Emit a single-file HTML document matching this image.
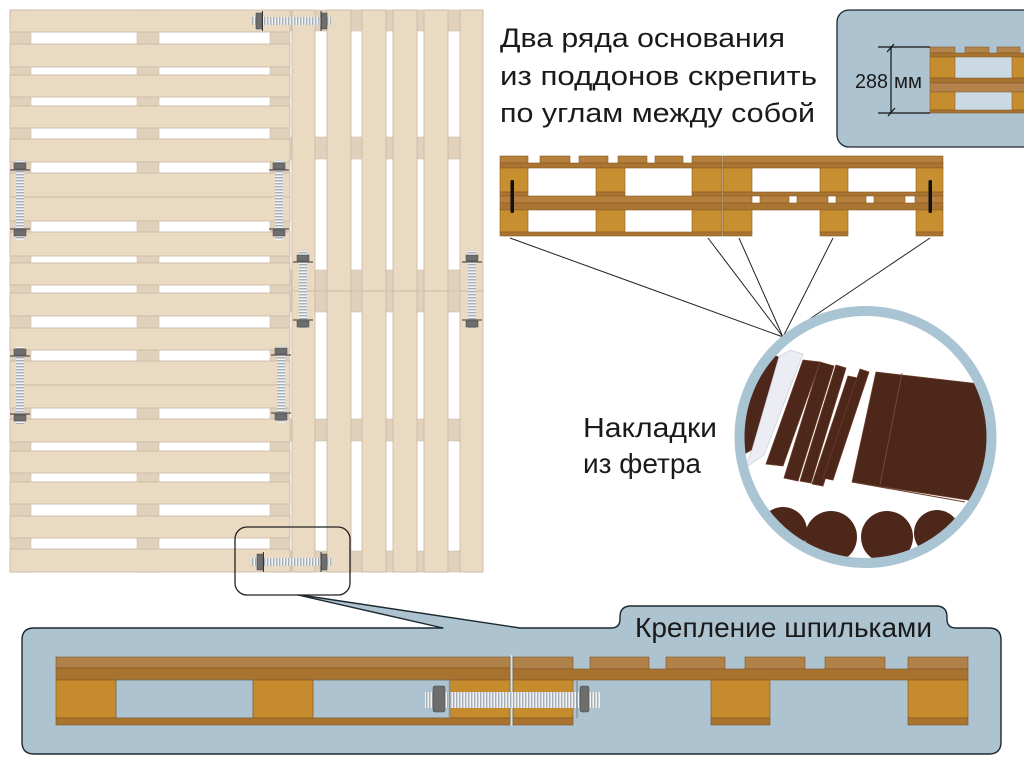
<!DOCTYPE html>
<html><head><meta charset="utf-8"><style>html,body{margin:0;padding:0;background:#fff;}svg{display:block;}</style></head>
<body>
<svg width="1024" height="768" viewBox="0 0 1024 768" xmlns="http://www.w3.org/2000/svg" font-family="'Liberation Sans','DejaVu Sans',sans-serif">
<defs>
<pattern id="tv" width="8" height="3" patternUnits="userSpaceOnUse"><rect width="8" height="3" fill="#f0f2f4"/><rect width="8" height="1.4" fill="#a6aeb6"/></pattern>
<pattern id="th" width="3" height="8" patternUnits="userSpaceOnUse"><rect width="3" height="8" fill="#f0f2f4"/><rect width="1.4" height="8" fill="#a6aeb6"/></pattern>
<clipPath id="cc"><circle cx="865.5" cy="437" r="122"/></clipPath>
<clipPath id="ins"><rect x="837" y="10" width="187" height="137"/></clipPath>
</defs>
<rect width="1024" height="768" fill="#fff"/>

<!-- LEFT COLUMN: stringers -->
<g fill="#e0d0bc" stroke="#cdbfac" stroke-width="0.6">
<rect x="10" y="10" width="21" height="562"/>
<rect x="137" y="10" width="22" height="562"/>
<rect x="270" y="10" width="20" height="562"/>
</g>
<!-- left boards -->
<g fill="#ebdac2" stroke="#c6b7a2" stroke-width="0.8">
<rect x="10" y="10" width="280" height="22"/>
<rect x="10" y="44" width="280" height="23"/>
<rect x="10" y="75" width="280" height="22"/>
<rect x="10" y="106" width="280" height="22"/>
<rect x="10" y="139" width="280" height="23"/>
<rect x="10" y="173" width="280" height="24"/>
<rect x="10" y="197" width="280" height="24"/>
<rect x="10" y="232" width="280" height="24"/>
<rect x="10" y="263" width="280" height="22"/>
<rect x="10" y="293" width="280" height="23"/>
<rect x="10" y="328" width="280" height="22"/>
<rect x="10" y="361" width="280" height="24"/>
<rect x="10" y="385" width="280" height="23"/>
<rect x="10" y="419" width="280" height="23"/>
<rect x="10" y="451" width="280" height="22"/>
<rect x="10" y="482" width="280" height="22"/>
<rect x="10" y="516" width="280" height="22"/>
<rect x="10" y="549" width="280" height="23"/>
</g>

<!-- RIGHT COLUMN: stringers -->
<g fill="#e0d0bc" stroke="#cdbfac" stroke-width="0.6">
<rect x="291" y="10" width="192" height="21"/>
<rect x="291" y="137" width="192" height="22"/>
<rect x="291" y="270" width="192" height="21"/>
<rect x="291" y="291" width="192" height="21"/>
<rect x="291" y="419" width="192" height="22"/>
<rect x="291" y="551" width="192" height="21"/>
</g>
<g fill="#ebdac2" stroke="#c6b7a2" stroke-width="0.8">
<rect x="292" y="10" width="23" height="281"/>
<rect x="327" y="10" width="24" height="281"/>
<rect x="362" y="10" width="24" height="281"/>
<rect x="393" y="10" width="24" height="281"/>
<rect x="424" y="10" width="24" height="281"/>
<rect x="460" y="10" width="23" height="281"/>
<rect x="292" y="291" width="23" height="281"/>
<rect x="327" y="291" width="24" height="281"/>
<rect x="362" y="291" width="24" height="281"/>
<rect x="393" y="291" width="24" height="281"/>
<rect x="424" y="291" width="24" height="281"/>
<rect x="460" y="291" width="23" height="281"/>
</g>

<!-- BOLTS on top view -->
<g>
<!-- vertical bolts -->
<rect x="16" y="160" width="8" height="80" fill="url(#tv)"/>
<rect x="14" y="163" width="12" height="6" fill="#6e6e6e" stroke="#444" stroke-width="0.5"/>
<rect x="14" y="230" width="12" height="6" fill="#6e6e6e" stroke="#444" stroke-width="0.5"/>
<line x1="10" y1="170" x2="30" y2="170" stroke="#333" stroke-width="1"/>
<line x1="10" y1="229" x2="30" y2="229" stroke="#333" stroke-width="1"/>

<rect x="275" y="160" width="8" height="80" fill="url(#tv)"/>
<rect x="273" y="163" width="12" height="6" fill="#6e6e6e" stroke="#444" stroke-width="0.5"/>
<rect x="273" y="230" width="12" height="6" fill="#6e6e6e" stroke="#444" stroke-width="0.5"/>
<line x1="269" y1="170" x2="289" y2="170" stroke="#333" stroke-width="1"/>
<line x1="269" y1="229" x2="289" y2="229" stroke="#333" stroke-width="1"/>

<rect x="299" y="250" width="8" height="78" fill="url(#tv)"/>
<rect x="297" y="255" width="12" height="6" fill="#6e6e6e" stroke="#444" stroke-width="0.5"/>
<rect x="297" y="321" width="12" height="6" fill="#6e6e6e" stroke="#444" stroke-width="0.5"/>
<line x1="293" y1="262" x2="313" y2="262" stroke="#333" stroke-width="1"/>
<line x1="293" y1="320" x2="313" y2="320" stroke="#333" stroke-width="1"/>

<rect x="468" y="250" width="8" height="78" fill="url(#tv)"/>
<rect x="466" y="255" width="12" height="6" fill="#6e6e6e" stroke="#444" stroke-width="0.5"/>
<rect x="466" y="321" width="12" height="6" fill="#6e6e6e" stroke="#444" stroke-width="0.5"/>
<line x1="462" y1="262" x2="482" y2="262" stroke="#333" stroke-width="1"/>
<line x1="462" y1="320" x2="482" y2="320" stroke="#333" stroke-width="1"/>

<rect x="16" y="347" width="8" height="77" fill="url(#tv)"/>
<rect x="14" y="349" width="12" height="6" fill="#6e6e6e" stroke="#444" stroke-width="0.5"/>
<rect x="14" y="415" width="12" height="6" fill="#6e6e6e" stroke="#444" stroke-width="0.5"/>
<line x1="10" y1="356" x2="30" y2="356" stroke="#333" stroke-width="1"/>
<line x1="10" y1="414" x2="30" y2="414" stroke="#333" stroke-width="1"/>

<rect x="277" y="346" width="8" height="77" fill="url(#tv)"/>
<rect x="275" y="348" width="12" height="6" fill="#6e6e6e" stroke="#444" stroke-width="0.5"/>
<rect x="275" y="414" width="12" height="6" fill="#6e6e6e" stroke="#444" stroke-width="0.5"/>
<line x1="271" y1="355" x2="291" y2="355" stroke="#333" stroke-width="1"/>
<line x1="271" y1="413" x2="291" y2="413" stroke="#333" stroke-width="1"/>

<!-- horizontal bolts -->
<rect x="252" y="17" width="79" height="8" fill="url(#th)"/>
<rect x="256" y="13" width="6" height="16" fill="#6e6e6e" stroke="#444" stroke-width="0.5"/>
<rect x="321" y="13" width="6" height="16" fill="#6e6e6e" stroke="#444" stroke-width="0.5"/>
<line x1="262.5" y1="11" x2="262.5" y2="31" stroke="#333" stroke-width="1"/>
<line x1="321" y1="11" x2="321" y2="31" stroke="#333" stroke-width="1"/>

<rect x="252" y="558" width="80" height="8" fill="url(#th)"/>
<rect x="257" y="554" width="6" height="16" fill="#6e6e6e" stroke="#444" stroke-width="0.5"/>
<rect x="321" y="554" width="6" height="16" fill="#6e6e6e" stroke="#444" stroke-width="0.5"/>
<line x1="263.5" y1="552" x2="263.5" y2="572" stroke="#333" stroke-width="1"/>
<line x1="321" y1="552" x2="321" y2="572" stroke="#333" stroke-width="1"/>
</g>

<!-- callout box -->
<rect x="235" y="527" width="115" height="68" rx="12" fill="none" stroke="#222" stroke-width="1.3"/>

<!-- TITLE TEXT -->
<g fill="#1a1a1a" font-size="27">
<text x="500" y="47" textLength="285" lengthAdjust="spacingAndGlyphs">Два ряда основания</text>
<text x="500" y="85" textLength="317" lengthAdjust="spacingAndGlyphs">из поддонов скрепить</text>
<text x="500" y="122" textLength="315" lengthAdjust="spacingAndGlyphs">по углам между собой</text>
</g>

<!-- TOP RIGHT INSET -->
<rect x="837" y="10" width="210" height="137" rx="12" fill="#adc3d0" stroke="#1c2830" stroke-width="1.3"/>
<g clip-path="url(#ins)" stroke="#7d5527" stroke-width="0.5">
<rect x="955" y="57" width="57" height="21" fill="#cad9e2" stroke="none"/>
<rect x="955" y="92" width="57" height="18" fill="#cad9e2" stroke="none"/>
<rect x="930" y="47" width="25" height="6" fill="#b3834a"/>
<rect x="965" y="47" width="24" height="6" fill="#b3834a"/>
<rect x="997" y="47" width="23" height="6" fill="#b3834a"/>
<rect x="1026" y="47" width="20" height="6" fill="#b3834a"/>
<rect x="930" y="53" width="100" height="4" fill="#a8732f"/>
<rect x="930" y="57" width="25" height="21" fill="#c68d2f"/>
<rect x="1012" y="57" width="20" height="21" fill="#c68d2f"/>
<rect x="930" y="78" width="100" height="5" fill="#a8732f"/>
<rect x="930" y="83" width="100" height="9" fill="#b3834a"/>
<rect x="930" y="92" width="25" height="18" fill="#c68d2f"/>
<rect x="1012" y="92" width="20" height="18" fill="#c68d2f"/>
<rect x="930" y="110" width="100" height="3" fill="#a8732f"/>
</g>
<g stroke="#111" stroke-width="1.2">
<line x1="878" y1="47" x2="930" y2="47"/>
<line x1="878" y1="113" x2="930" y2="113"/>
<line x1="891" y1="47" x2="891" y2="113"/>
<line x1="887" y1="52" x2="894" y2="44"/>
<line x1="888" y1="116" x2="895" y2="108"/>
</g>
<g fill="#1a1a1a" font-size="20">
<text x="855" y="88" textLength="33" lengthAdjust="spacingAndGlyphs">288</text>
<text x="894" y="88" textLength="28" lengthAdjust="spacingAndGlyphs">мм</text>
</g>

<!-- MIDDLE SIDE VIEW -->
<g stroke="#8a5c22" stroke-width="0.6">
<!-- left section row A -->
<rect x="500" y="156" width="28" height="7" fill="#b5803c"/>
<rect x="540" y="156" width="30" height="7" fill="#b5803c"/>
<rect x="579" y="156" width="29" height="7" fill="#b5803c"/>
<rect x="618" y="156" width="29" height="7" fill="#b5803c"/>
<rect x="655" y="156" width="28" height="7" fill="#b5803c"/>
<rect x="692" y="156" width="30" height="7" fill="#b5803c"/>
<rect x="500" y="163" width="222" height="5" fill="#aa7432"/>
<rect x="500" y="168" width="28" height="24" fill="#c88f30"/>
<rect x="596" y="168" width="29" height="24" fill="#c88f30"/>
<rect x="692" y="168" width="30" height="24" fill="#c88f30"/>
<rect x="500" y="192" width="28" height="4" fill="#aa7432"/>
<rect x="596" y="192" width="29" height="4" fill="#aa7432"/>
<rect x="692" y="192" width="30" height="4" fill="#aa7432"/>
<!-- left row B -->
<rect x="500" y="196" width="222" height="7" fill="#b5803c"/>
<rect x="500" y="203" width="222" height="7" fill="#aa7432"/>
<rect x="500" y="210" width="28" height="22" fill="#c88f30"/>
<rect x="596" y="210" width="29" height="22" fill="#c88f30"/>
<rect x="692" y="210" width="30" height="22" fill="#c88f30"/>
<rect x="500" y="232" width="222" height="4" fill="#aa7432"/>
<!-- right section row A -->
<rect x="723" y="156" width="220" height="7" fill="#b5803c"/>
<rect x="723" y="163" width="220" height="5" fill="#aa7432"/>
<rect x="723" y="168" width="29" height="24" fill="#c88f30"/>
<rect x="820" y="168" width="28" height="24" fill="#c88f30"/>
<rect x="916" y="168" width="27" height="24" fill="#c88f30"/>
<rect x="723" y="192" width="220" height="4" fill="#aa7432"/>
<!-- right row B -->
<rect x="723" y="196" width="29" height="7" fill="#b5803c"/>
<rect x="760" y="196" width="29" height="7" fill="#b5803c"/>
<rect x="797" y="196" width="31" height="7" fill="#b5803c"/>
<rect x="836" y="196" width="30" height="7" fill="#b5803c"/>
<rect x="874" y="196" width="31" height="7" fill="#b5803c"/>
<rect x="915" y="196" width="28" height="7" fill="#b5803c"/>
<rect x="723" y="203" width="220" height="7" fill="#aa7432"/>
<rect x="723" y="210" width="29" height="22" fill="#c88f30"/>
<rect x="820" y="210" width="28" height="22" fill="#c88f30"/>
<rect x="916" y="210" width="27" height="22" fill="#c88f30"/>
<rect x="723" y="232" width="29" height="4" fill="#aa7432"/>
<rect x="820" y="232" width="28" height="4" fill="#aa7432"/>
<rect x="916" y="232" width="27" height="4" fill="#aa7432"/>
</g>
<rect x="510.5" y="180" width="3.5" height="33" rx="1.5" fill="#111"/>
<rect x="928.5" y="180" width="3.5" height="33" rx="1.5" fill="#111"/>

<!-- converging lines -->
<g stroke="#222" stroke-width="1">
<line x1="510" y1="238" x2="783" y2="337"/>
<line x1="708" y1="238" x2="783" y2="337"/>
<line x1="739" y1="238" x2="783" y2="337"/>
<line x1="833" y1="238" x2="783" y2="337"/>
<line x1="930" y1="238" x2="783" y2="337"/>
</g>

<!-- FELT CIRCLE -->
<g clip-path="url(#cc)">
<polygon points="770,353 779,357 752,450 738,458 728,440" fill="#4e271b"/>
<polygon points="779,357 790,350 803,354 764,455 745,468 752,450" fill="#ececf4" stroke="#cfd0dc" stroke-width="0.8"/>
<g fill="#4e271b" stroke="#6b3d2a" stroke-width="0.8">
<polygon points="803,360 820,362 783,466 766,464"/>
<polygon points="820,362 834,366 798,481 784,478"/>
<polygon points="836,365 846,368 811,483 800,481"/>
<polygon points="848,376 858,378 823,486 812,484"/>
<polygon points="860,369 869,372 833,480 823,478"/>
<polygon points="876,372 980,384 1000,505 852,482"/>
</g>
<line x1="902" y1="373" x2="880" y2="485" stroke="#7a5040" stroke-width="0.8"/>
<line x1="852" y1="482" x2="965" y2="502" stroke="#6b3d2a" stroke-width="1"/>
<g fill="#4e271b">
<circle cx="783" cy="531" r="24"/>
<circle cx="831" cy="537" r="26"/>
<circle cx="887" cy="537" r="26"/>
<circle cx="937" cy="533" r="23"/>
</g>
</g>
<circle cx="865.5" cy="437" r="126" fill="none" stroke="#a9c4d3" stroke-width="10"/>

<g fill="#1a1a1a" font-size="28">
<text x="583" y="437" textLength="134" lengthAdjust="spacingAndGlyphs">Накладки</text>
<text x="583" y="473" textLength="118" lengthAdjust="spacingAndGlyphs">из фетра</text>
</g>

<!-- BOTTOM PANEL -->
<path d="M 34,628 L 443,628 L 298,595 L 307,596 L 520,628 L 611,628 Q 620,628 620,619 L 620,617 Q 620,606 631,606 L 936,606 Q 947,606 947,617 L 947,619 Q 947,628 956,628 L 989,628 Q 1001,628 1001,640 L 1001,742 Q 1001,754 989,754 L 34,754 Q 22,754 22,742 L 22,640 Q 22,628 34,628 Z" fill="#adc3d0" stroke="#1c2830" stroke-width="1.4" stroke-linejoin="round"/>
<text x="635" y="637" font-size="28" fill="#1a1a1a" textLength="297" lengthAdjust="spacingAndGlyphs">Крепление шпильками</text>

<g stroke="#7d5527" stroke-width="0.6">
<!-- left pallet -->
<rect x="56" y="657" width="454" height="11" fill="#b1814a"/>
<rect x="56" y="668" width="454" height="12" fill="#a8732f"/>
<rect x="116" y="680" width="137" height="38" fill="none" stroke="#6c7a84"/>
<rect x="313" y="680" width="137" height="38" fill="none" stroke="#6c7a84"/>
<rect x="56" y="680" width="60" height="38" fill="#c58b2c"/>
<rect x="253" y="680" width="60" height="38" fill="#c58b2c"/>
<rect x="450" y="680" width="60" height="38" fill="#c58b2c"/>
<rect x="56" y="718" width="454" height="7" fill="#a8742f"/>
<!-- right pallet -->
<rect x="513" y="657" width="60" height="12" fill="#b1814a"/>
<rect x="590" y="657" width="59" height="12" fill="#b1814a"/>
<rect x="666" y="657" width="59" height="12" fill="#b1814a"/>
<rect x="745" y="657" width="60" height="12" fill="#b1814a"/>
<rect x="825" y="657" width="60" height="12" fill="#b1814a"/>
<rect x="908" y="657" width="60" height="12" fill="#b1814a"/>
<rect x="513" y="669" width="455" height="11" fill="#a8732f"/>
<rect x="513" y="680" width="60" height="38" fill="#c58b2c"/>
<rect x="711" y="680" width="59" height="38" fill="#c58b2c"/>
<rect x="908" y="680" width="60" height="38" fill="#c58b2c"/>
<rect x="513" y="718" width="60" height="7" fill="#a8742f"/>
<rect x="711" y="718" width="59" height="7" fill="#a8742f"/>
<rect x="908" y="718" width="60" height="7" fill="#a8742f"/>
</g>
<line x1="511.5" y1="655" x2="511.5" y2="726" stroke="#e8e0d0" stroke-width="1.5"/>
<!-- bolt in panel -->
<rect x="425" y="692" width="175" height="16" fill="url(#th)"/>
<line x1="449.5" y1="680" x2="449.5" y2="718" stroke="#8496a2" stroke-width="1.5"/>
<line x1="577" y1="680" x2="577" y2="718" stroke="#8496a2" stroke-width="1.5"/>
<rect x="433" y="686" width="12" height="26" rx="2" fill="#6d6d6d" stroke="#444" stroke-width="0.5"/>
<rect x="580" y="686" width="9" height="26" rx="2" fill="#6d6d6d" stroke="#444" stroke-width="0.5"/>
</svg>
</body></html>
